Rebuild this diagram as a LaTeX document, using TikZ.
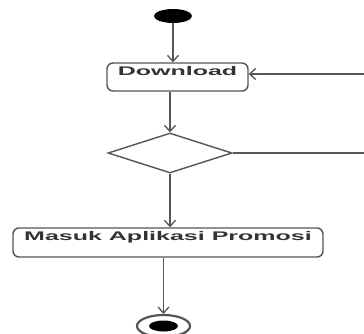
\documentclass[tikz,border=0pt]{standalone}
\usepackage{fontspec}
\setmainfont{Liberation Sans}
\usetikzlibrary{shapes.geometric,arrows.meta}
\definecolor{edge}{HTML}{555555}
\definecolor{ink}{HTML}{333333}
\newcommand{\wide}[1]{\scalebox{2.0}[1]{\bfseries #1}}
\tikzset{
  actbox/.style={draw=edge, line width=1.4pt, rounded corners=6pt, inner sep=0pt},
  acttext/.style={inner sep=0pt, text=ink, font=\fontsize{12.5}{13}\selectfont},
  flow/.style={draw=edge, line width=1.7pt, -{Straight Barb[length=6pt,width=11pt,line width=1.3pt]}},
  plain/.style={draw=edge, line width=1.4pt},
  decision/.style={draw=edge, line width=1.4pt, diamond, inner sep=0pt, minimum width=124pt, minimum height=40pt},
}
\begin{document}
\begin{tikzpicture}[x=1pt,y=-1pt]
\useasboundingbox (0,0) rectangle (364,333);
% initial node
\node[ellipse, fill=black, inner sep=0pt, minimum width=38pt, minimum height=14pt] (start) at (173,16) {};
% activity: Download
\node[actbox, minimum width=141pt, minimum height=28pt] (dl) at (177.5,77) {};
\node[acttext] (dltext) at (177.5,71.5) {\wide{Download}};
% decision
\node[decision] (dia) at (170,153) {};
% activity: Masuk Aplikasi Promosi
\node[actbox, minimum width=310pt, minimum height=29pt] (masuk) at (168,242.5) {};
\node[acttext] (masuktext) at (168,237) {\wide{Masuk Aplikasi Promosi}};
% final node
\node[ellipse, draw=edge, line width=2.2pt, inner sep=0pt, minimum width=53pt, minimum height=22pt] (end) at (163.5,326) {};
\node[ellipse, fill=black, inner sep=0pt, minimum width=29pt, minimum height=11pt] (endcore) at (163.5,326) {};
% loop-back ends at the right border
\coordinate (loopin) at (364,74);
\coordinate (loopout) at (364,153);
% connectors
\draw[flow] (start.south) -- (start.south |- dl.north);
\draw[flow] (loopin) -- (dl.east |- loopin);
\draw[flow] (dia.north |- dl.south) -- (dia.north);
\draw[plain] (dia.east) -- (loopout);
\draw[flow] (dia.south) -- (dia.south |- masuk.north);
\draw[flow] (end.north |- masuk.south) -- (end.north);
\end{tikzpicture}
\end{document}
